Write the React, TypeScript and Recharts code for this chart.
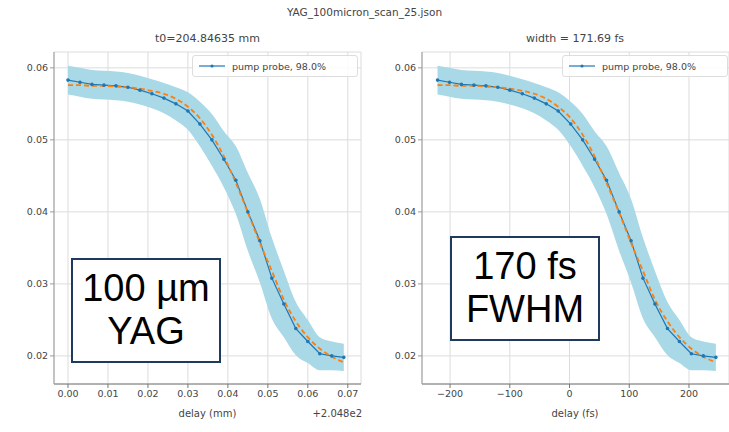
import React from "react";
import {
  ComposedChart,
  Line,
  Area,
  XAxis,
  YAxis,
  CartesianGrid,
} from "recharts";

// scan positions, offset from 204.8 mm
const delayMm = [
  0.0, 0.003, 0.006, 0.009, 0.012, 0.015, 0.018, 0.021, 0.024, 0.027, 0.03, 0.033,
  0.036, 0.039, 0.042, 0.045, 0.048, 0.051, 0.054, 0.057, 0.06, 0.063, 0.066, 0.069,
];
// same scan in fs
const delayFs = [
  -221, -201, -181, -160, -140, -120, -100, -79, -59, -39, -19, 2,
  22, 42, 62, 83, 103, 123, 143, 164, 184, 204, 224, 245,
];
const signal = [
  0.0583, 0.058, 0.0577, 0.0576, 0.0575, 0.0573, 0.0569, 0.0564, 0.0558, 0.055, 0.054, 0.0522,
  0.05, 0.0473, 0.0444, 0.04, 0.036, 0.0308, 0.0272, 0.0238, 0.022, 0.0203, 0.02, 0.0198,
];
const fitCurve = [
  0.0576, 0.0576, 0.0575, 0.0575, 0.0574, 0.0573, 0.0571, 0.0568, 0.0564, 0.0557, 0.0546, 0.053,
  0.0507, 0.0477, 0.044, 0.0399, 0.0357, 0.0318, 0.0278, 0.0248, 0.0226, 0.021, 0.0199, 0.0191,
];
const spread = [
  0.002, 0.002, 0.002, 0.002, 0.002, 0.002, 0.002, 0.002, 0.0021, 0.0023, 0.0026, 0.0031,
  0.0036, 0.0039, 0.0047, 0.0054, 0.0058, 0.0056, 0.0046, 0.0037, 0.003, 0.0023, 0.002, 0.0019,
];

const mmTicks = [0, 0.01, 0.02, 0.03, 0.04, 0.05, 0.06, 0.07];
const fsTicks = [-200, -100, 0, 100, 200];
const yTicks = [0.02, 0.03, 0.04, 0.05, 0.06];

const BLUE = "#1f77b4";
const ORANGE = "#ff7f0e";
const BAND = "#a9d8e6";
const tickStyle = { fontSize: 9.5, fill: "#444", fontFamily: "DejaVu Sans" };

function makeRows(xs: number[]) {
  return xs.map((x, i) => ({
    x,
    y: signal[i],
    fit: fitCurve[i],
    band: [signal[i] - spread[i], signal[i] + spread[i]],
  }));
}

function Panel({ rows, xDomain, xTicks, yDomain, fmt }: any) {
  return (
    <ComposedChart
      width={365}
      height={432}
      data={rows}
      margin={{ top: 52, right: 4, bottom: 0, left: 0 }}
    >
      <CartesianGrid stroke="#dcdcdc" />
      <XAxis
        dataKey="x"
        type="number"
        domain={xDomain}
        ticks={xTicks}
        tickFormatter={fmt}
        height={48}
        tick={tickStyle}
        stroke="#777"
        tickSize={4}
        allowDataOverflow
      />
      <YAxis
        type="number"
        domain={yDomain}
        ticks={yTicks}
        tickFormatter={(v: number) => v.toFixed(2)}
        width={54}
        tick={tickStyle}
        stroke="#999"
        tickSize={4}
        allowDataOverflow
      />
      <XAxis xAxisId="top" orientation="top" height={0} tick={false} stroke="#ccc" />
      <YAxis yAxisId="right" orientation="right" width={0} tick={false} stroke="#777" />
      <Area
        dataKey="band"
        type="monotone"
        stroke="none"
        fill={BAND}
        fillOpacity={1}
        isAnimationActive={false}
      />
      <Line
        dataKey="y"
        stroke={BLUE}
        strokeWidth={1.2}
        dot={{ r: 1.2, fill: BLUE, stroke: BLUE }}
        isAnimationActive={false}
      />
      <Line
        dataKey="fit"
        type="monotone"
        stroke={ORANGE}
        strokeWidth={1.8}
        strokeDasharray="5 3"
        dot={false}
        isAnimationActive={false}
      />
    </ComposedChart>
  );
}

function LegendBox({ left }: { left: number }) {
  return (
    <div
      style={{
        position: "absolute",
        left,
        top: 55,
        width: 166,
        height: 22,
        boxSizing: "border-box",
        border: "1px solid #ddd",
        borderRadius: 3,
        background: "rgba(255,255,255,0.85)",
        display: "flex",
        alignItems: "center",
        fontFamily: "DejaVu Sans",
        fontSize: 9.5,
        color: "#444",
        paddingLeft: 6,
      }}
    >
      <svg width={26} height={8}>
        <line x1={0} y1={4} x2={26} y2={4} stroke={BLUE} strokeWidth={1.2} />
        <circle cx={13} cy={4} r={1.6} fill={BLUE} />
      </svg>
      <span style={{ marginLeft: 7 }}>pump probe, 98.0%</span>
    </div>
  );
}

function Note({ left, top, lines }: { left: number; top: number; lines: string[] }) {
  return (
    <div
      style={{
        position: "absolute",
        left,
        top,
        width: 150,
        height: 105,
        boxSizing: "border-box",
        border: "2px solid #1f3a5f",
        background: "#fff",
        fontFamily: "Liberation Sans",
        fontSize: 38,
        lineHeight: "43px",
        color: "#000",
        textAlign: "center",
        paddingTop: 7,
      }}
    >
      {lines.map((l) => (
        <div key={l}>{l}</div>
      ))}
    </div>
  );
}

const txt = (extra: any) => ({
  position: "absolute" as const,
  fontFamily: "DejaVu Sans",
  color: "#444",
  whiteSpace: "nowrap" as const,
  ...extra,
});

export default function App() {
  return (
    <div style={{ position: "absolute", left: 0, top: 0, width: 729, height: 432, background: "#fff" }}>
      <div style={{ position: "absolute", left: 0, top: 0 }}>
        <Panel
          rows={makeRows(delayMm)}
          xDomain={[-0.0035, 0.0733]}
          xTicks={mmTicks}
          yDomain={[0.0161, 0.0622]}
          fmt={(v: number) => v.toFixed(2)}
        />
      </div>
      <div style={{ position: "absolute", left: 368, top: 0 }}>
        <Panel
          rows={makeRows(delayFs)}
          xDomain={[-247, 267]}
          xTicks={fsTicks}
          yDomain={[0.0161, 0.0622]}
          fmt={(v: number) => (v < 0 ? "\u2212" + Math.abs(v) : String(v))}
        />
      </div>
      <div style={txt({ left: 0, width: 729, textAlign: "center", top: 6, fontSize: 10.5 })}>
        YAG_100micron_scan_25.json
      </div>
      <div style={txt({ left: 54, width: 307, textAlign: "center", top: 32, fontSize: 11 })}>
        t0=204.84635 mm
      </div>
      <div style={txt({ left: 422, width: 306, textAlign: "center", top: 32, fontSize: 11 })}>
        width = 171.69 fs
      </div>
      <div style={txt({ left: 54, width: 307, textAlign: "center", top: 408, fontSize: 10 })}>
        delay (mm)
      </div>
      <div style={txt({ left: 290, width: 72, textAlign: "right", top: 408, fontSize: 10 })}>
        +2.048e2
      </div>
      <div style={txt({ left: 422, width: 306, textAlign: "center", top: 408, fontSize: 10 })}>
        delay (fs)
      </div>
      <LegendBox left={192} />
      <LegendBox left={562} />
      <Note left={71} top={258} lines={["100 \u00b5m", "YAG"]} />
      <Note left={450} top={236} lines={["170 fs", "FWHM"]} />
    </div>
  );
}
